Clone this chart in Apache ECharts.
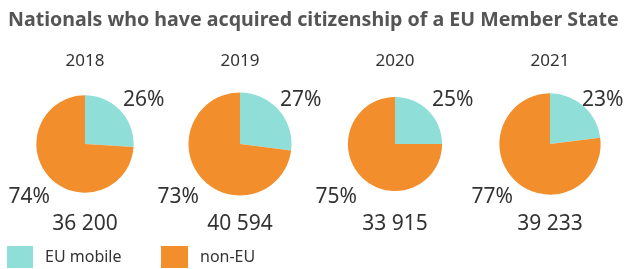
<!DOCTYPE html>
<html>
<head>
<meta charset="utf-8">
<script src="https://cdn.jsdelivr.net/npm/echarts@6/dist/echarts.min.js"></script>
<style>
  html, body { margin: 0; padding: 0; background: #fff; }
  #chart { width: 628px; height: 269px; }
</style>
</head>
<body>
<div id="chart"></div>
<script>
// data
var years = ["2018", "2019", "2020", "2021"];
var euMobile = [26, 27, 25, 23];
var nonEu = [74, 73, 75, 77];
var totals = [36200, 40594, 33915, 39233];

var FONT = "Noto Sans";
var TEAL = "#8fded8";
var ORANGE = "#f28e2c";

// layout
var centersX = [85, 240, 395, 550];
var centerY = 144;
var maxR = 51.5; // radius of the biggest pie, others scale by area
var tealDx = [38, 40, 37, 32];
var orangeDx = [-35, -41, -38, -37];

function fmt(n) {
  return String(n).replace(/\B(?=(\d{3})+(?!\d))/g, " ");
}

var maxTotal = Math.max.apply(null, totals);

var titles = [
  {
    text: "Nationals who have acquired citizenship of a EU Member State",
    left: 8,
    top: 10,
    padding: 0,
    textStyle: { fontFamily: FONT, fontSize: 19.6, fontWeight: "bold", color: "#555555" },
  },
];
var series = [];

years.forEach(function (y, i) {
  titles.push({
    text: y,
    left: centersX[i],
    top: 53,
    padding: 0,
    textAlign: "center",
    textStyle: { fontFamily: FONT, fontSize: 17, fontWeight: "normal", color: "#333333" },
  });
  titles.push({
    text: fmt(totals[i]),
    left: centersX[i],
    top: 214,
    padding: 0,
    textAlign: "center",
    textStyle: { fontFamily: FONT, fontSize: 21, fontWeight: "normal", color: "#333333" },
  });
  series.push({
    type: "pie",
    center: [centersX[i], centerY],
    radius: [0, maxR * Math.sqrt(totals[i] / maxTotal)],
    startAngle: 90,
    clockwise: true,
    silent: true,
    avoidLabelOverlap: false,
    itemStyle: { borderWidth: 0 },
    label: {
      show: true,
      position: "outside",
      formatter: "{c}%",
      fontFamily: FONT,
      fontSize: 21,
      color: "#333333",
    },
    labelLine: { show: false },
    labelLayout: function (params) {
      if (params.dataIndex === 0) {
        return { x: centersX[i] + tealDx[i], y: centerY - 44, align: "left", verticalAlign: "middle", hideOverlap: false };
      }
      return { x: centersX[i] + orangeDx[i], y: centerY + 53, align: "right", verticalAlign: "middle", hideOverlap: false };
    },
    data: [
      { name: "EU mobile", value: euMobile[i], itemStyle: { color: TEAL } },
      { name: "non-EU", value: nonEu[i], itemStyle: { color: ORANGE } },
    ],
  });
});

var legendText = { fontFamily: FONT, fontSize: 16, color: "#333333", padding: [9, 0, 0, 7] };

var myChart = echarts.init(document.getElementById("chart"), null, { renderer: "canvas" });
var option = {
  animation: false,
  title: titles,
  legend: [
    {
      data: ["EU mobile"],
      left: 7,
      top: 246,
      padding: 0,
      icon: "rect",
      itemWidth: 26,
      itemHeight: 22,
      selectedMode: false,
      textStyle: legendText,
    },
    {
      data: ["non-EU"],
      left: 161,
      top: 246,
      padding: 0,
      icon: "rect",
      itemWidth: 27,
      itemHeight: 22,
      selectedMode: false,
      textStyle: legendText,
    },
  ],
  series: series,
};
myChart.setOption(option);
</script>
</body>
</html>
